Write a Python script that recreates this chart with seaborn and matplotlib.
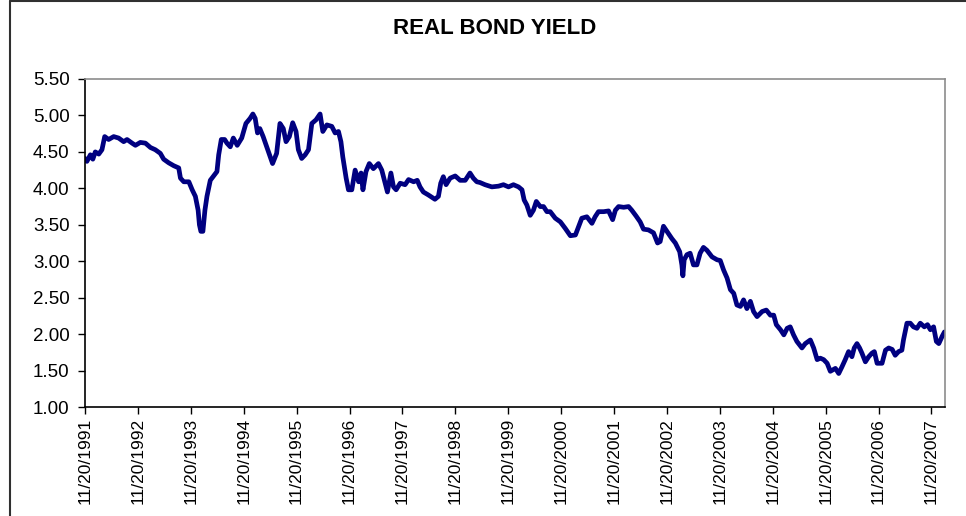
import pandas as pd
import matplotlib
matplotlib.use("Agg")
import matplotlib.pyplot as plt
import matplotlib.dates as mdates
from matplotlib.lines import Line2D
from matplotlib.ticker import FormatStrFormatter
import seaborn as sns

# Values
dates = [
    "1991-11-20", "1991-12-03", "1991-12-27", "1992-01-13", "1992-01-30", "1992-02-23",
    "1992-03-16", "1992-04-04", "1992-05-01", "1992-06-05", "1992-07-09", "1992-08-13",
    "1992-09-05", "1992-10-10", "1992-11-02", "1992-12-06", "1993-01-10", "1993-02-14",
    "1993-03-19", "1993-04-23", "1993-05-16", "1993-06-20", "1993-07-25", "1993-08-28",
    "1993-09-09", "1993-10-02", "1993-11-06", "1993-11-29", "1993-12-21", "1994-01-09",
    "1994-01-18", "1994-01-28", "1994-02-11", "1994-02-25", "1994-03-11", "1994-04-03",
    "1994-04-26", "1994-05-19", "1994-05-31", "1994-06-18", "1994-07-11", "1994-07-27",
    "1994-08-19", "1994-09-09", "1994-10-06", "1994-11-06", "1994-12-05", "1995-01-03",
    "1995-01-22", "1995-02-07", "1995-02-23", "1995-03-11", "1995-04-03", "1995-05-01",
    "1995-06-07", "1995-07-05", "1995-07-28", "1995-08-20", "1995-09-08", "1995-10-01",
    "1995-10-24", "1995-11-16", "1995-12-02", "1995-12-25", "1996-01-18", "1996-02-10",
    "1996-03-04", "1996-04-02", "1996-04-30", "1996-05-19", "1996-06-16", "1996-07-20",
    "1996-08-12", "1996-09-04", "1996-09-21", "1996-10-04", "1996-10-27", "1996-11-12",
    "1996-12-05", "1996-12-28", "1997-01-21", "1997-02-07", "1997-02-20", "1997-03-13",
    "1997-04-05", "1997-05-03", "1997-06-07", "1997-06-30", "1997-07-23", "1997-08-08",
    "1997-09-01", "1997-09-19", "1997-10-07", "1997-11-04", "1997-12-08", "1998-01-01",
    "1998-02-05", "1998-03-02", "1998-03-21", "1998-04-13", "1998-05-17", "1998-07-02",
    "1998-07-26", "1998-08-11", "1998-08-29", "1998-09-17", "1998-10-15", "1998-11-19",
    "1998-12-23", "1999-01-27", "1999-03-01", "1999-03-24", "1999-04-17", "1999-05-09",
    "1999-06-13", "1999-07-30", "1999-09-14", "1999-10-18", "1999-11-22", "1999-12-26",
    "2000-01-30", "2000-02-23", "2000-03-09", "2000-03-28", "2000-04-20", "2000-05-12",
    "2000-06-01", "2000-06-28", "2000-07-21", "2000-08-13", "2000-09-05", "2000-10-10",
    "2000-11-14", "2000-12-18", "2001-01-22", "2001-02-26", "2001-03-19", "2001-04-11",
    "2001-05-16", "2001-06-20", "2001-07-12", "2001-08-04", "2001-09-09", "2001-10-13",
    "2001-11-10", "2001-11-29", "2001-12-21", "2002-01-25", "2002-02-28", "2002-03-22",
    "2002-04-21", "2002-05-19", "2002-06-11", "2002-07-15", "2002-08-19", "2002-09-16",
    "2002-10-04", "2002-10-27", "2002-11-20", "2002-12-24", "2003-01-17", "2003-02-16",
    "2003-03-03", "2003-03-10", "2003-03-19", "2003-04-07", "2003-04-29", "2003-05-22",
    "2003-06-15", "2003-07-07", "2003-07-30", "2003-08-23", "2003-09-27", "2003-11-01",
    "2003-11-23", "2003-12-16", "2004-01-09", "2004-02-01", "2004-02-24", "2004-03-17",
    "2004-04-10", "2004-05-02", "2004-05-25", "2004-06-18", "2004-07-10", "2004-08-03",
    "2004-09-07", "2004-10-06", "2004-11-03", "2004-11-26", "2004-12-14", "2005-01-12",
    "2005-02-04", "2005-02-27", "2005-03-20", "2005-04-12", "2005-05-05", "2005-06-09",
    "2005-07-02", "2005-08-06", "2005-08-29", "2005-09-22", "2005-10-14", "2005-11-06",
    "2005-11-30", "2005-12-22", "2006-01-26", "2006-02-18", "2006-03-12", "2006-04-04",
    "2006-04-27", "2006-05-20", "2006-06-05", "2006-06-24", "2006-07-12", "2006-07-28",
    "2006-08-21", "2006-09-13", "2006-10-06", "2006-10-22", "2006-11-10", "2006-12-14",
    "2007-01-07", "2007-01-29", "2007-02-22", "2007-03-15", "2007-04-07", "2007-04-30",
    "2007-05-11", "2007-06-04", "2007-06-27", "2007-07-19", "2007-08-12", "2007-09-04",
    "2007-10-02", "2007-10-24", "2007-11-13", "2007-12-05", "2007-12-24", "2008-01-10",
    "2008-02-02", "2008-02-18", "2008-02-22",
]
yields = [
    4.41, 4.37, 4.46, 4.40, 4.50, 4.47,
    4.53, 4.71, 4.67, 4.71, 4.69, 4.64,
    4.67, 4.62, 4.59, 4.63, 4.62, 4.56,
    4.53, 4.48, 4.40, 4.35, 4.31, 4.28,
    4.14, 4.09, 4.09, 3.98, 3.89, 3.70,
    3.50, 3.41, 3.41, 3.70, 3.89, 4.11,
    4.17, 4.23, 4.46, 4.67, 4.67, 4.62,
    4.57, 4.69, 4.59, 4.69, 4.89, 4.96,
    5.02, 4.96, 4.76, 4.82, 4.71, 4.55,
    4.34, 4.48, 4.89, 4.82, 4.64, 4.71,
    4.90, 4.78, 4.53, 4.41, 4.46, 4.53,
    4.89, 4.94, 5.02, 4.78, 4.87, 4.85,
    4.76, 4.78, 4.64, 4.43, 4.14, 3.98,
    3.98, 4.25, 4.09, 4.21, 3.98, 4.23,
    4.34, 4.27, 4.34, 4.25, 4.07, 3.95,
    4.21, 4.02, 3.98, 4.07, 4.05, 4.12,
    4.09, 4.11, 4.02, 3.95, 3.91, 3.85,
    3.89, 4.07, 4.16, 4.05, 4.14, 4.17,
    4.11, 4.11, 4.21, 4.14, 4.09, 4.08,
    4.05, 4.02, 4.03, 4.05, 4.02, 4.05,
    4.02, 3.98, 3.84, 3.77, 3.63, 3.70,
    3.82, 3.75, 3.75, 3.68, 3.68, 3.59,
    3.54, 3.45, 3.35, 3.36, 3.47, 3.59,
    3.61, 3.52, 3.61, 3.68, 3.68, 3.69,
    3.57, 3.70, 3.75, 3.74, 3.75, 3.70,
    3.62, 3.54, 3.44, 3.43, 3.39, 3.25,
    3.27, 3.48, 3.41, 3.31, 3.25, 3.13,
    2.95, 2.80, 3.02, 3.09, 3.11, 2.95,
    2.95, 3.11, 3.19, 3.15, 3.06, 3.02,
    3.01, 2.88, 2.77, 2.61, 2.56, 2.40,
    2.38, 2.47, 2.35, 2.45, 2.31, 2.24,
    2.31, 2.33, 2.26, 2.26, 2.13, 2.06,
    1.99, 2.08, 2.10, 1.99, 1.90, 1.81,
    1.87, 1.92, 1.81, 1.65, 1.67, 1.65,
    1.60, 1.49, 1.53, 1.46, 1.55, 1.65,
    1.76, 1.69, 1.81, 1.87, 1.81, 1.74,
    1.62, 1.69, 1.74, 1.76, 1.60, 1.60,
    1.78, 1.81, 1.79, 1.71, 1.76, 1.78,
    1.92, 2.15, 2.15, 2.10, 2.08, 2.15,
    2.10, 2.13, 2.06, 2.10, 1.90, 1.87,
    1.97, 2.03, 2.02,
]
tick_dates = ["1991-11-20", "1992-11-20", "1993-11-20", "1994-11-20", "1995-11-20",
              "1996-11-20", "1997-11-20", "1998-11-20", "1999-11-20", "2000-11-20",
              "2001-11-20", "2002-11-20", "2003-11-20", "2004-11-20", "2005-11-20",
              "2006-11-20", "2007-11-20"]
y_ticks = [1.0, 1.5, 2.0, 2.5, 3.0, 3.5, 4.0, 4.5, 5.0, 5.5]

df = pd.DataFrame({"date": pd.to_datetime(dates), "yield": yields})

sns.set_style("ticks")
plt.rcParams["font.family"] = ["Liberation Sans", "DejaVu Sans"]

fig = plt.figure(figsize=(9.66, 5.16), dpi=100)
ax = fig.add_axes([0.088, 0.2112, 0.8903, 0.6357])

sns.lineplot(data=df, x="date", y="yield", ax=ax, color="#000080", linewidth=3.4)

ax.set_xlim(df["date"].iloc[0], df["date"].iloc[-1])
ax.set_ylim(1.0, 5.5)
ax.set_yticks(y_ticks)
ax.yaxis.set_major_formatter(FormatStrFormatter("%.2f"))
ax.set_xticks(pd.to_datetime(tick_dates))
ax.xaxis.set_major_formatter(mdates.DateFormatter("%m/%d/%Y"))
ax.set_xlabel("")
ax.set_ylabel("")

ax.tick_params(axis="both", direction="out", length=5, width=1, color="black",
               labelcolor="black")
ax.tick_params(axis="y", pad=6, labelsize=13.5)
ax.tick_params(axis="x", pad=3, labelsize=12.5)
plt.setp(ax.get_xticklabels(), rotation=90, ha="center", va="top")

for side in ["left", "bottom"]:
    ax.spines[side].set_color("black")
    ax.spines[side].set_linewidth(1.2)
for side in ["top", "right"]:
    ax.spines[side].set_visible(True)
    ax.spines[side].set_color("#8c8c8c")
    ax.spines[side].set_linewidth(1.2)

fig.text(0.5124, 0.944, "REAL BOND YIELD", ha="center", va="center",
         fontsize=16, fontweight="bold", color="black")

# chart area frame (top and left edges visible in the reference)
fig.add_artist(Line2D([10 / 966, 1.0], [1 - 1 / 516, 1 - 1 / 516],
                      transform=fig.transFigure, color="#303030", linewidth=1.5))
fig.add_artist(Line2D([10 / 966, 10 / 966], [0.0, 1 - 1 / 516],
                      transform=fig.transFigure, color="#303030", linewidth=1.5))

fig.savefig("out.png", dpi=100)
